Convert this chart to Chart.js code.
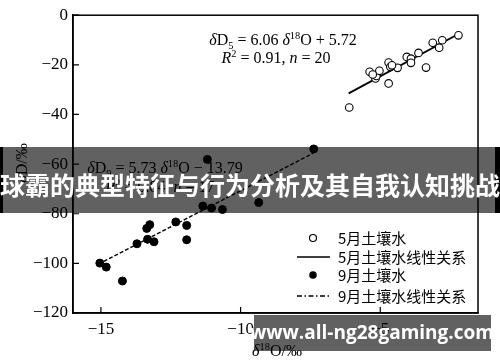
<!DOCTYPE html>
<html>
<head>
<meta charset="utf-8">
<script src="https://cdn.jsdelivr.net/npm/chart.js@4.4.1/dist/chart.umd.min.js"></script>
<style>
  body { margin: 0; background: #fff; }
  #wrap { width: 500px; height: 362px; position: relative; }
</style>
</head>
<body>
<div id="wrap"><canvas id="chart"></canvas></div>
<script>
// May soil water (open circles)
var mayX = [-6.11, -5.38, -5.17, -5.14, -5.03, -4.70, -4.64, -4.70, -4.38, -4.05,
            -3.90, -3.90, -3.63, -3.36, -3.12, -2.89, -2.78, -2.20, -4.58, -5.27];
var mayY = [-37.2, -22.8, -25.5, -24.5, -22.4, -19.1, -20.8, -27.5, -21.2, -16.8,
            -17.5, -19.2, -15.2, -21.1, -11.1, -13.1, -10.1, -8.1, -20.2, -23.9];
// September soil water (filled dots)
var sepX = [-15.04, -14.81, -14.23, -13.71, -13.36, -13.25, -13.33, -13.10, -12.32,
            -11.93, -11.93, -11.35, -11.04, -10.65, -11.19, -9.35, -7.38];
var sepY = [-99.9, -101.5, -107.1, -92.1, -85.9, -84.4, -90.3, -91.3, -83.3,
            -84.7, -90.5, -76.9, -77.7, -78.3, -58.1, -75.5, -53.9];
// fitted lines, end points
var mayFitX = [-6.13, -2.20];
var mayFitY = [-31.5, -7.6];
var sepFitX = [-14.9, -7.4];
var sepFitY = [-99.2, -55.6];

var xTicks = [-15, -10, -5];
var legendLabels = ['5月土壤水', '5月土壤水线性关系', '9月土壤水', '9月土壤水线性关系'];

function pts(xs, ys) {
    var out = [];
    for (var i = 0; i < xs.length; i++) out.push({ x: xs[i], y: ys[i] });
    return out;
}

var SERIF = '"Liberation Serif", "DejaVu Serif", serif';

// draw text pieces with italic / sub / sup
function rich(ctx, segs, cx, cy, size) {
    function font(k) {
        var s = (k === 'sub' || k === 'sup') ? size * 0.65 : size;
        return (k === 'i' ? 'italic ' : '') + s + 'px ' + SERIF;
    }
    var total = 0;
    segs.forEach(function (s) { ctx.font = font(s[1]); total += ctx.measureText(s[0]).width; });
    var x = cx - total / 2;
    var base = cy + size * 0.33;
    ctx.textAlign = 'left';
    ctx.textBaseline = 'alphabetic';
    ctx.fillStyle = '#000';
    segs.forEach(function (s) {
        ctx.font = font(s[1]);
        var dy = s[1] === 'sub' ? size * 0.22 : (s[1] === 'sup' ? -size * 0.38 : 0);
        ctx.fillText(s[0], x, base + dy);
        x += ctx.measureText(s[0]).width;
    });
}

var decor = {
    id: 'decor',
    afterDraw: function (chart) {
        var ctx = chart.ctx;
        var a = chart.chartArea;
        var xs = chart.scales.x, ys = chart.scales.y;
        ctx.save();

        // frame top/right
        ctx.strokeStyle = '#000';
        ctx.lineWidth = 1.5;
        ctx.strokeRect(a.left, a.top, a.right - a.left, a.bottom - a.top);

        // inward ticks
        ctx.lineWidth = 1.2;
        ctx.beginPath();
        ys.ticks.forEach(function (t) {
            var py = ys.getPixelForValue(t.value);
            ctx.moveTo(a.left, py); ctx.lineTo(a.left + 6, py);
        });
        xTicks.forEach(function (v) {
            var px = xs.getPixelForValue(v);
            ctx.moveTo(px, a.bottom); ctx.lineTo(px, a.bottom - 6);
        });
        ctx.stroke();

        // axis titles
        rich(ctx, [['δ', 'i'], ['18', 'sup'], ['O/‰', 'n']], 277, 351, 16);
        ctx.save();
        ctx.translate(22, 163);
        ctx.rotate(-Math.PI / 2);
        rich(ctx, [['δ', 'i'], ['D/‰', 'n']], 0, 0, 16);
        ctx.restore();

        // equations
        rich(ctx, [['δ', 'i'], ['D', 'n'], ['5', 'sub'], [' = 6.06 ', 'n'], ['δ', 'i'], ['18', 'sup'], ['O + 5.72', 'n']], 283, 40, 16);
        rich(ctx, [['R', 'i'], ['2', 'sup'], [' = 0.91, ', 'n'], ['n', 'i'], [' = 20', 'n']], 276, 58, 16);
        rich(ctx, [['δ', 'i'], ['D', 'n'], ['9', 'sub'], [' = 5.73 ', 'n'], ['δ', 'i'], ['18', 'sup'], ['O − 13.79', 'n']], 165, 168, 16);
        rich(ctx, [['R', 'i'], ['2', 'sup'], [' = 0.84, ', 'n'], ['n', 'i'], [' = 17', 'n']], 160, 187, 16);

        // legend
        var lx = 313, tx = 338, rows = [238, 257, 275, 296];
        ctx.fillStyle = '#000';
        ctx.strokeStyle = '#000';
        ctx.lineWidth = 1.2;
        ctx.beginPath(); ctx.arc(lx, rows[0], 3.5, 0, Math.PI * 2); ctx.stroke();
        ctx.lineWidth = 1.6;
        ctx.beginPath(); ctx.moveTo(297, rows[1]); ctx.lineTo(330, rows[1]); ctx.stroke();
        ctx.beginPath(); ctx.arc(lx, rows[2], 3.8, 0, Math.PI * 2); ctx.fill();
        ctx.setLineDash([5, 2.5, 1.5, 2.5]);
        ctx.beginPath(); ctx.moveTo(297, rows[3]); ctx.lineTo(330, rows[3]); ctx.stroke();
        ctx.setLineDash([]);
        ctx.font = '15px "Noto Sans CJK SC", sans-serif';
        ctx.textAlign = 'left';
        ctx.textBaseline = 'middle';
        legendLabels.forEach(function (t, i) { ctx.fillText(t, tx, rows[i]); });

        // banner overlay
        ctx.fillStyle = 'rgba(0,0,0,0.62)';
        ctx.fillRect(0, 147, 500, 66);
        ctx.fillStyle = '#000';
        ctx.fillRect(0, 147, 3, 66);
        ctx.fillRect(495, 147, 5, 66);
        ctx.fillStyle = '#fff';
        ctx.font = 'bold 25px "Noto Sans CJK SC", sans-serif';
        ctx.textAlign = 'center';
        ctx.textBaseline = 'middle';
        ctx.fillText('球霸的典型特征与行为分析及其自我认知挑战', 250, 185);

        // watermark
        ctx.fillStyle = 'rgba(0,0,0,0.62)';
        ctx.fillRect(254, 315, 237, 36);
        ctx.fillStyle = '#fff';
        ctx.font = 'bold 19px "Open Sans", sans-serif';
        ctx.fillText('www.all-ng28gaming.com', 372, 334);
        ctx.restore();
    }
};

var ctx = document.getElementById('chart').getContext('2d');
var chart = new Chart(ctx, {
    type: 'scatter',
    data: {
        datasets: [{
            label: legendLabels[0],
            data: pts(mayX, mayY),
            pointRadius: 3.8,
            pointBorderWidth: 1.1,
            pointBackgroundColor: '#fff',
            pointBorderColor: '#000'
        }, {
            label: legendLabels[1],
            data: pts(mayFitX, mayFitY),
            showLine: true,
            pointRadius: 0,
            borderColor: '#000',
            borderWidth: 1.8
        }, {
            label: legendLabels[2],
            data: pts(sepX, sepY),
            pointRadius: 4,
            pointBackgroundColor: '#000',
            pointBorderColor: '#000'
        }, {
            label: legendLabels[3],
            data: pts(sepFitX, sepFitY),
            showLine: true,
            pointRadius: 0,
            borderColor: '#000',
            borderWidth: 1.4,
            borderDash: [4, 2]
        }]
    },
    options: {
        responsive: true,
        maintainAspectRatio: false,
        animation: false,
        layout: { padding: { left: 0, top: 13, right: 22, bottom: 0 } },
        plugins: { legend: { display: false }, tooltip: { enabled: false } },
        scales: {
            x: {
                type: 'linear',
                min: -16,
                max: -1.5,
                afterBuildTicks: function (s) { s.ticks = xTicks.map(function (v) { return { value: v }; }); },
                afterFit: function (s) { s.height = 49; },
                grid: { display: false, drawTicks: false },
                border: { display: true, color: '#000', width: 1.5 },
                ticks: {
                    color: '#000',
                    padding: 6,
                    font: { family: SERIF, size: 17 },
                    callback: function (v) { return String(v).replace('-', '−'); }
                }
            },
            y: {
                min: -120,
                max: 0,
                afterFit: function (s) { s.width = 73; },
                grid: { display: false, drawTicks: false },
                border: { display: true, color: '#000', width: 1.5 },
                ticks: {
                    stepSize: 20,
                    color: '#000',
                    padding: 5,
                    font: { family: SERIF, size: 17 },
                    callback: function (v) { return String(v).replace('-', '−'); }
                }
            }
        }
    },
    plugins: [decor]
});
</script>
</body>
</html>
